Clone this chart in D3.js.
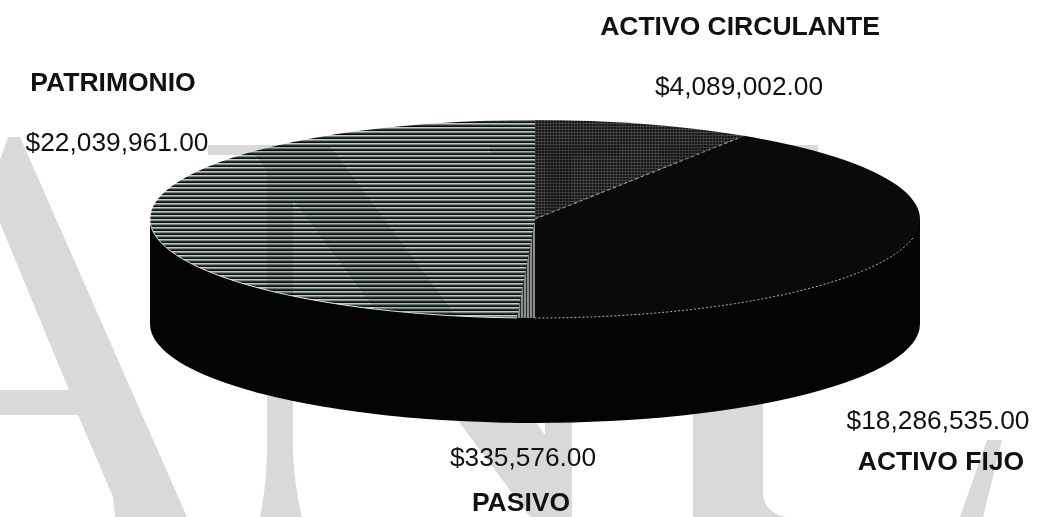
<!DOCTYPE html>
<html>
<head>
<meta charset="utf-8">
<script src="https://cdn.jsdelivr.net/npm/d3@7"></script>
<style>
	html, body { margin: 0; padding: 0; background: #fff; }
	svg { display: block; }
	text { font-family: "Liberation Sans", Arial, sans-serif; fill: #111; }
</style>
</head>
<body>
<div id="chart"></div>
<script>
// Data
var categories = ["ACTIVO CIRCULANTE", "ACTIVO FIJO", "PASIVO", "PATRIMONIO"];
var values = [4089002, 18286535, 335576, 22039961];

// Width and height of the page
var width = 1048;
var height = 517;

// Pie shape: top ellipse and wall height
var cx = 535, cy = 219, rx = 385, ry = 99, depth = 105;
var squash = ry / rx;

// Where each label sits [name x, name y, value x, value y], all centred
var labelPos = [
	[740, 35, 739, 95],
	[941, 470, 938, 429],
	[521, 511, 523, 466],
	[113, 91, 117, 151]
];

// Outlines of the big grey scanned letters behind the chart
var watermarkLetters = [
	"M0,160 L8,137 L20,137 L187,517 L115,517 L113,497 L78,415 L0,415 L0,390 L69,390 L0,223 Z",
	"M208,145 L329,145 L545,435 L545,155 L490,155 L490,145 L620,145 L620,155 L572,155 L572,517 L530,517 L293,199 L293,453 Q295,490 302,517 L260,517 Q266,490 267,453 L267,170 L255,155 L208,155 Z",
	"M660,145 L818,145 L818,155 L763,165 L763,495 Q765,512 785,517 L960,517 L987,440 L1002,440 L983,517 L693,517 L693,165 L660,155 Z"
];

var svg = d3.select("#chart")
	.append("svg")
	.attr("width", width)
	.attr("height", height);

var defs = svg.append("defs");

// Horizontal lines for PATRIMONIO
var hatch = defs.append("pattern")
	.attr("id", "hLines")
	.attr("patternUnits", "userSpaceOnUse")
	.attr("width", 8)
	.attr("height", 4)
	.attr("patternTransform", "scale(1," + (1 / squash) + ")");
["#c4cfca", "#77857f", "#2e3633", "#0a0c0b"].forEach(function(c, i) {
	hatch.append("rect").attr("y", i).attr("width", 8).attr("height", 1).attr("fill", c);
});

// Dark grid for ACTIVO CIRCULANTE
var grid = defs.append("pattern")
	.attr("id", "darkGrid")
	.attr("patternUnits", "userSpaceOnUse")
	.attr("width", 3)
	.attr("height", 3)
	.attr("patternTransform", "scale(1," + (1 / squash) + ")");
grid.append("rect").attr("width", 3).attr("height", 3).attr("fill", "#161616");
grid.append("rect").attr("width", 1).attr("height", 3).attr("fill", "#3a3a3a");
grid.append("rect").attr("width", 3).attr("height", 1).attr("fill", "#444");

// Fine vertical lines for PASIVO
var vLines = defs.append("pattern")
	.attr("id", "vLines")
	.attr("patternUnits", "userSpaceOnUse")
	.attr("width", 3)
	.attr("height", 3)
	.attr("patternTransform", "scale(1," + (1 / squash) + ")");
vLines.append("rect").attr("width", 3).attr("height", 3).attr("fill", "#8a8f8d");
vLines.append("rect").attr("width", 1).attr("height", 3).attr("fill", "#2c2c2c");

// Top face only, for the faint letters that show through the stripes
defs.append("clipPath")
	.attr("id", "topClip")
	.append("ellipse")
	.attr("cx", cx)
	.attr("cy", cy)
	.attr("rx", rx)
	.attr("ry", ry);

var sliceFill = ["url(#darkGrid)", "#0a0a0a", "url(#vLines)", "url(#hLines)"];

// Letters go first, the pie covers them
svg.append("g")
	.attr("fill", "#d9d9d9")
	.selectAll("path")
	.data(watermarkLetters)
	.enter()
	.append("path")
	.attr("d", function(d) { return d; });

// Pie layout, keeps the order of the picture, clockwise from the top
var pie = d3.pie().sort(null).value(function(d) { return d; });
var arcs = pie(values);
var arc = d3.arc().innerRadius(0).outerRadius(rx);

// Side wall: lower ellipse plus a band up to the top ellipse
svg.append("path")
	.attr("transform", "translate(" + cx + "," + (cy + depth) + ") scale(1," + squash + ")")
	.attr("d", arc({startAngle: 0, endAngle: 2 * Math.PI}))
	.attr("fill", "#040404");
svg.append("rect")
	.attr("x", cx - rx)
	.attr("y", cy)
	.attr("width", 2 * rx)
	.attr("height", depth)
	.attr("fill", "#040404");

var topFace = svg.append("g")
	.attr("transform", "translate(" + cx + "," + cy + ") scale(1," + squash + ")");

topFace.selectAll("path.slice")
	.data(arcs)
	.enter()
	.append("path")
	.attr("class", "slice")
	.attr("d", arc)
	.attr("fill", function(d, i) { return sliceFill[i]; });

// Dotted light edges the scan leaves on the top of the pie
var rim = d3.lineRadial()
	.angle(function(d) { return d; })
	.radius(rx);

function rimRange(a0, a1) {
	return d3.range(a0, a1, 0.01).concat([a1]);
}

// ACTIVO FIJO front edge, it fades out before the right side
topFace.append("path")
	.attr("d", rim(rimRange(arcs[1].startAngle + 1.19, arcs[1].endAngle)))
	.attr("fill", "none")
	.attr("stroke", "#b9b9b9")
	.attr("stroke-width", 1)
	.attr("stroke-dasharray", "2 2")
	.attr("vector-effect", "non-scaling-stroke");

// PATRIMONIO front edge
topFace.append("path")
	.attr("d", rim(rimRange(arcs[3].startAngle, arcs[3].endAngle - 1.5)))
	.attr("fill", "none")
	.attr("stroke", "#eef3f0")
	.attr("stroke-width", 1)
	.attr("vector-effect", "non-scaling-stroke");

// Line between ACTIVO CIRCULANTE and ACTIVO FIJO
topFace.append("path")
	.attr("d", d3.lineRadial()([[arcs[0].endAngle, 0], [arcs[0].endAngle, rx * 0.97]]))
	.attr("fill", "none")
	.attr("stroke", "#9a9a9a")
	.attr("stroke-width", 1.2)
	.attr("stroke-dasharray", "3 3")
	.attr("vector-effect", "non-scaling-stroke");

// Faint copy of the letters over the top face
svg.append("g")
	.attr("clip-path", "url(#topClip)")
	.attr("fill", "#8a8a8a")
	.attr("opacity", 0.3)
	.style("mix-blend-mode", "multiply")
	.selectAll("path")
	.data(watermarkLetters)
	.enter()
	.append("path")
	.attr("d", function(d) { return d; });

// Names and amounts
var money = d3.format("$,.2f");

svg.selectAll("text.name")
	.data(categories)
	.enter()
	.append("text")
	.attr("class", "name")
	.attr("x", function(d, i) { return labelPos[i][0]; })
	.attr("y", function(d, i) { return labelPos[i][1]; })
	.attr("text-anchor", "middle")
	.attr("font-size", 26.5)
	.attr("font-weight", "bold")
	.text(function(d) { return d; });

svg.selectAll("text.amount")
	.data(values)
	.enter()
	.append("text")
	.attr("class", "amount")
	.attr("x", function(d, i) { return labelPos[i][2]; })
	.attr("y", function(d, i) { return labelPos[i][3]; })
	.attr("text-anchor", "middle")
	.attr("font-size", 26.3)
	.text(function(d) { return money(d); });
</script>
</body>
</html>
